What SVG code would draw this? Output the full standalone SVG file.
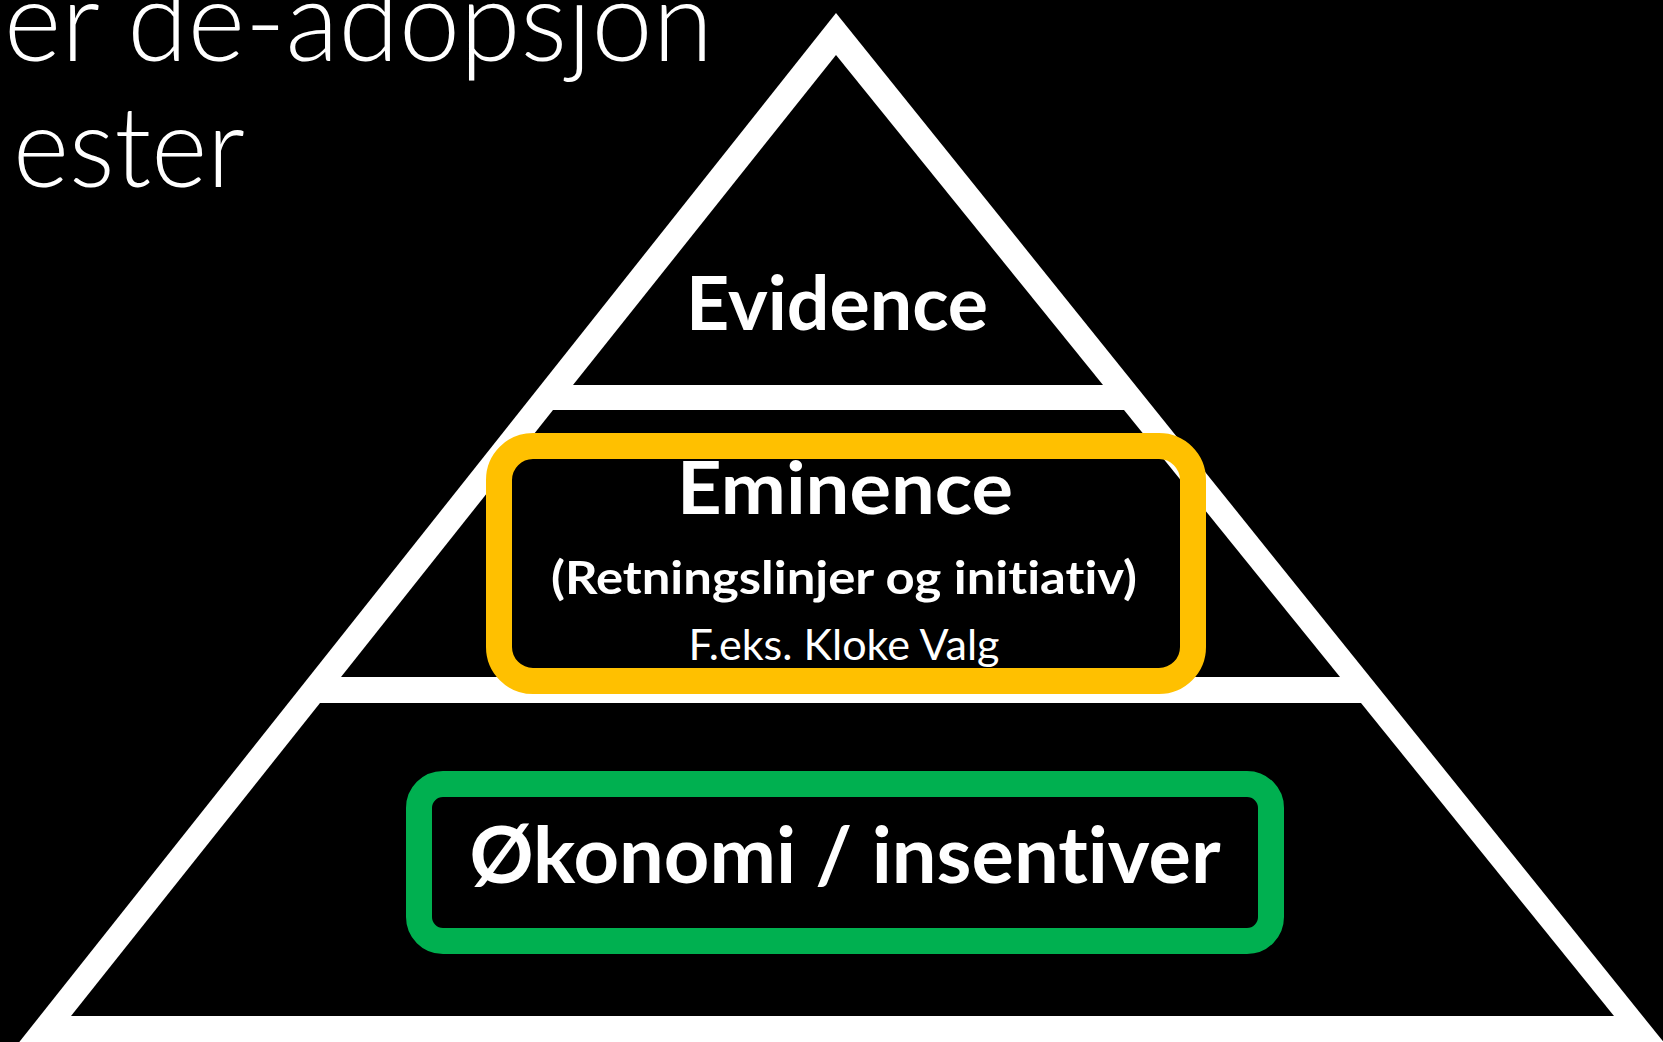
<svg xmlns="http://www.w3.org/2000/svg" width="1663" height="1042" viewBox="0 0 1663 1042">
<style>
text{font-variant-ligatures:none;font-feature-settings:"liga" 0,"clig" 0,"dlig" 0}
.bold{font-family:Lato,"Open Sans","Liberation Sans",sans-serif;font-weight:700;fill:#fff;text-anchor:middle}
.reg{font-family:Lato,"Open Sans","Liberation Sans",sans-serif;font-weight:400;fill:#fff;text-anchor:middle}
.title{font-family:Lato,"Open Sans","Liberation Sans",sans-serif;font-weight:300;fill:#fff;font-size:112px}
.blk{fill:#000}
</style>
<rect width="1663" height="1042" fill="#000"/>
<g id="title">
<text class="title" x="4" y="61" textLength="709" lengthAdjust="spacingAndGlyphs">er de-adopsjon</text>
<text class="title" x="13" y="187" textLength="232" lengthAdjust="spacingAndGlyphs">ester</text>
</g>
<g id="pyramid">
<polygon points="836,13 5,1060 1678,1060" fill="#fff"/>
<polygon class="blk" points="836,55 573,385 1103,385"/>
<polygon class="blk" points="553,410 1124,410 1340,677 341,677"/>
<polygon class="blk" points="320,703 1361,703 1614,1016 71,1016"/>
</g>
<g id="evidence">
<text class="bold" x="837" y="330" font-size="74" textLength="302" lengthAdjust="spacingAndGlyphs">Evidence</text>
</g>
<g id="eminence">
<rect x="499" y="446" width="694" height="235" rx="34" fill="none" stroke="#FFC000" stroke-width="26"/>
<text class="bold" x="845" y="514" font-size="73" textLength="336" lengthAdjust="spacingAndGlyphs">Eminence</text>
<text class="bold" x="844" y="594" font-size="46" textLength="586" lengthAdjust="spacingAndGlyphs">(Retningslinjer og initiativ)</text>
<text class="reg" x="844" y="660" font-size="42" textLength="311" lengthAdjust="spacingAndGlyphs">F.eks. Kloke Valg</text>
</g>
<g id="okonomi">
<rect x="419" y="784" width="852" height="157" rx="24" fill="none" stroke="#00B050" stroke-width="26"/>
<text class="bold" x="845" y="883" font-size="78" textLength="751" lengthAdjust="spacingAndGlyphs">Økonomi / insentiver</text>
</g>
<g id="connectors"/>
</svg>
